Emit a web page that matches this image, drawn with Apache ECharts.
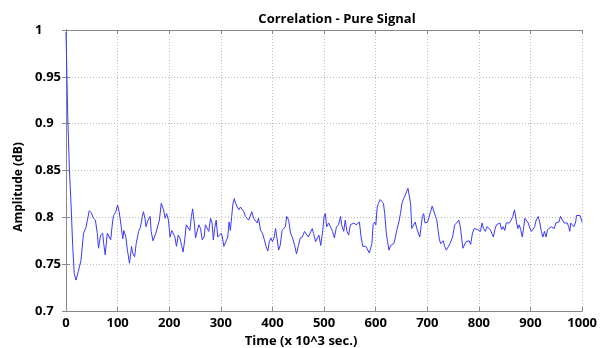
<!DOCTYPE html>
<html><head><meta charset="utf-8">
<script src="https://cdn.jsdelivr.net/npm/echarts@6/dist/echarts.min.js"></script>
<style>html,body{margin:0;padding:0;background:#fff}#c{width:600px;height:348px}</style>
</head><body><div id="c"></div>
<script>
const title = "Correlation - Pure Signal";
const xName = "Time (x 10^3 sec.)";
const yName = "Amplitude (dB)";
const times = [0,3.5,6.7,10,13,16,19.4,23.8,29,34,38.5,41.5,45,49,53,57,60.6,63,67,71,73,76,80,83,86.6,90,92,96,100,103,107,110,112,116,119,123,127,129,133,136,140.6,144,148,150,153,155,159,163,165,168.5,174,177.5,181,184.5,186.4,189,192,195,198.5,201.6,205,208,211,214,217.5,220.7,224,227,230,233,236.6,240,243,245.4,248.6,251,254,257.5,260.7,264,267.7,270,273,276.6,280,283,285.5,288,291,294,297.5,300.7,303,305.8,309.6,313.4,316,318.5,321,323.5,326,328.6,331.8,335,338,341,344.5,347.7,351,354,357,360,363.5,366.6,370.4,373,377,380.6,384.4,387.6,391,394,397,400,403.5,406,408.5,412,415,418.7,421,425,427.6,431.4,435,439,443,446.6,450.4,454,458,462,465.7,469.5,473,477,479.6,483.5,487,490,493.6,497.4,500,502.5,505,509,512.7,516.5,520,524,528,532,534,538,541,544.4,547.6,551,554.6,558,562,565,568.5,571.7,575,578,581,584.4,587.6,590,592.7,595,598,600.3,603,605.4,608.6,611.7,615,617.5,620.6,623,625.7,629,632,635.2,638.4,641.6,645,648,651,654,657.5,660.6,662.5,665,667.6,670,673,676.5,679.7,683,685.4,688,690.5,693,695.5,698,700.6,703,706.3,709.5,712.7,716,718.4,721,723.5,726,728.6,731,733.6,737,740,744,749,753,757,761,764,767,769,772,775,778,781,784,787.5,790.6,794,797,800,803,806,809,812.5,815.6,819,822,825,828,831,834,837.5,840.6,844,847,850,853,856,859,862.5,865.6,869,871,873,875.6,878,881,884,887,889,892.5,895.6,899,902,905,908,911,915,918,921,924,927,930,933,936,940,943,946,949,952,955,958,961,965,968,971,974,976,978,981,984,987.5,989,992.5,996,1000];
const values = [0.998,0.904,0.85,0.811,0.769,0.740,0.733,0.742,0.754,0.783,0.789,0.797,0.807,0.805,0.799,0.797,0.783,0.767,0.781,0.783,0.772,0.760,0.783,0.785,0.776,0.794,0.802,0.805,0.813,0.806,0.790,0.777,0.786,0.779,0.765,0.751,0.769,0.762,0.758,0.772,0.785,0.789,0.801,0.806,0.799,0.790,0.797,0.801,0.785,0.775,0.783,0.785,0.797,0.815,0.816,0.808,0.799,0.804,0.797,0.779,0.786,0.787,0.779,0.769,0.781,0.778,0.770,0.763,0.776,0.792,0.794,0.786,0.801,0.809,0.794,0.778,0.785,0.792,0.788,0.776,0.779,0.792,0.792,0.785,0.799,0.794,0.776,0.788,0.797,0.779,0.778,0.783,0.779,0.769,0.768,0.779,0.795,0.786,0.801,0.815,0.820,0.815,0.811,0.808,0.811,0.813,0.806,0.801,0.799,0.797,0.795,0.806,0.799,0.797,0.794,0.799,0.786,0.783,0.776,0.769,0.764,0.774,0.778,0.774,0.779,0.788,0.779,0.765,0.770,0.786,0.788,0.790,0.801,0.797,0.783,0.778,0.770,0.761,0.770,0.778,0.779,0.785,0.785,0.779,0.781,0.788,0.783,0.774,0.776,0.781,0.770,0.786,0.801,0.804,0.790,0.794,0.792,0.785,0.778,0.790,0.792,0.801,0.792,0.785,0.797,0.785,0.781,0.792,0.790,0.794,0.792,0.794,0.795,0.779,0.769,0.768,0.769,0.767,0.762,0.760,0.772,0.792,0.795,0.792,0.811,0.815,0.819,0.818,0.815,0.804,0.783,0.774,0.765,0.770,0.768,0.772,0.779,0.788,0.795,0.804,0.815,0.820,0.824,0.822,0.831,0.833,0.815,0.788,0.786,0.795,0.788,0.790,0.779,0.790,0.801,0.804,0.794,0.792,0.795,0.794,0.806,0.812,0.810,0.801,0.797,0.786,0.776,0.772,0.774,0.775,0.769,0.765,0.764,0.772,0.779,0.792,0.794,0.797,0.790,0.776,0.767,0.765,0.774,0.776,0.775,0.771,0.783,0.788,0.787,0.787,0.785,0.785,0.794,0.788,0.785,0.790,0.789,0.787,0.783,0.779,0.787,0.792,0.792,0.794,0.787,0.790,0.786,0.794,0.795,0.794,0.797,0.801,0.808,0.806,0.794,0.788,0.792,0.787,0.779,0.790,0.799,0.797,0.794,0.788,0.785,0.787,0.790,0.797,0.801,0.794,0.785,0.779,0.785,0.779,0.787,0.788,0.790,0.792,0.788,0.794,0.792,0.795,0.801,0.799,0.794,0.794,0.794,0.790,0.785,0.794,0.792,0.790,0.795,0.802,0.804,0.802,0.795];
const xTicks = [0,1000,100];
const yTicks = [0.7,1,0.05];

const FONT = '"Open Sans"';
const lbl = {color:'#000', fontWeight:'bold', fontSize:13, fontFamily:FONT};
const axLine = {show:true, lineStyle:{color:'#888', width:1}};
const tick = {show:true, inside:true, length:4, lineStyle:{color:'#888'}};
const chart = echarts.init(document.getElementById('c'), null, {renderer:'canvas'});
chart.setOption({
  animation:false,
  backgroundColor:'#fff',
  title:{text:title, left:332, textAlign:'center', top:8, textStyle:{fontFamily:FONT, fontWeight:'bold', fontSize:13, color:'#000'}},
  grid:{left:66, right:8, top:30, bottom:37},
  graphic:[
    {type:'text', x:301, y:341, style:{text:xName, font:'bold 13px "Open Sans"', fill:'#000', align:'center', verticalAlign:'middle'}},
    {type:'text', x:19, y:187, rotation:Math.PI/2, style:{text:yName, font:'bold 12px "Open Sans"', fill:'#000', align:'center', verticalAlign:'middle'}}
  ],
  xAxis:[{
    type:'value', min:xTicks[0], max:xTicks[1], interval:xTicks[2],
    axisLabel:Object.assign({margin:6, formatter:v=>String(v)}, lbl),
    axisLine:axLine, axisTick:tick,
    splitLine:{show:true, lineStyle:{color:'#bdbdbd', type:[1,2], width:1}}
  },{
    type:'value', position:'top', min:xTicks[0], max:xTicks[1], interval:xTicks[2],
    axisLabel:{show:false}, axisLine:axLine, axisTick:tick, splitLine:{show:false}
  }],
  yAxis:[{
    type:'value', min:yTicks[0], max:yTicks[1], interval:yTicks[2],
    axisLabel:Object.assign({margin:31, align:'left', formatter:v=>String(+v.toFixed(2))}, lbl),
    axisLine:axLine, axisTick:tick,
    splitLine:{show:true, lineStyle:{color:'#bdbdbd', type:[1,2], width:1}}
  },{
    type:'value', position:'right', min:yTicks[0], max:yTicks[1], interval:yTicks[2],
    axisLabel:{show:false}, axisLine:axLine, axisTick:tick, splitLine:{show:false}
  }],
  series:[{
    type:'line', showSymbol:false, symbol:'none',
    data: times.map((t,i)=>[t, values[i]]),
    lineStyle:{color:'#3a3aff', width:1},
    clip:true
  }]
});
</script></body></html>
